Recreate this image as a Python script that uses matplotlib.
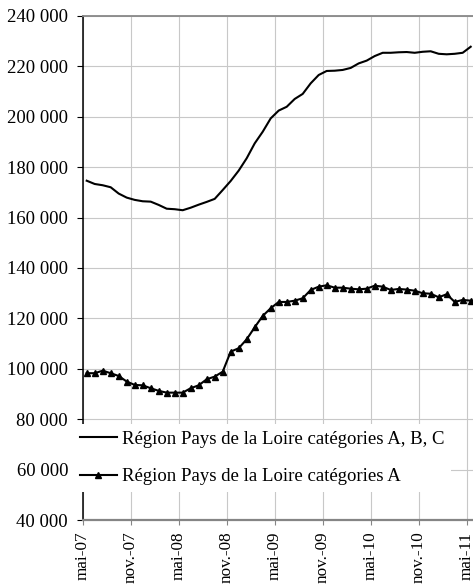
import numpy as np
import matplotlib
matplotlib.use('Agg')
import matplotlib.pyplot as plt
from matplotlib.ticker import FuncFormatter

plt.rcParams['font.family'] = ['Liberation Serif', 'DejaVu Serif']
plt.rcParams['font.size'] = 13.5

#monthly series, mai-07 .. mai-11
cat_abc = [174600, 173300, 172800, 172000, 169500, 167900, 167000, 166450, 166300,
           165000, 163500, 163300, 162900, 163900, 165100, 166200, 167400, 170900,
           174500, 178600, 183500, 189400, 194000, 199300, 202400, 203900, 207000,
           209000, 213200, 216500, 218100, 218200, 218500, 219300, 221100, 222200,
           224000, 225300, 225300, 225500, 225600, 225300, 225700, 225900, 224900,
           224700, 224900, 225300, 227700]
cat_a = [98300, 98300, 99300, 98300, 97200, 95000, 93650, 93500, 92350,
         91300, 90600, 90600, 90600, 92350, 93500, 95900, 96950, 98900,
         106850, 108200, 111750, 116500, 121000, 124050, 126550, 126550, 127050,
         128000, 131300, 132600, 133150, 132200, 132200, 131800, 131550, 131800,
         133000, 132600, 131300, 131700, 131450, 131000, 130000, 129800, 128400,
         129600, 126550, 127350, 127050]
tick_labels = ['mai-07', 'nov.-07', 'mai-08', 'nov.-08', 'mai-09',
               'nov.-09', 'mai-10', 'nov.-10', 'mai-11']
series_names = ['Région Pays de la Loire catégories A, B, C',
                'Région Pays de la Loire catégories A']

W, H = 473, 588
fig = plt.figure(figsize=(W / 100, H / 100), dpi=100)
ax = fig.add_axes([82.7 / W, 67.7 / H, 392 / W, 504.6 / H])

x = np.arange(len(cat_abc)) + 0.5
ax.plot(x, cat_abc, color='black', lw=1.5, label=series_names[0])
ax.plot(x, cat_a, color='black', lw=1.5, marker='^', ms=4.5,
        label=series_names[1])

ax.set_xlim(0, len(cat_abc))
ax.set_ylim(40000, 240000)
ax.set_xticks(np.arange(0, len(cat_abc), 6))
ax.set_xticklabels(tick_labels, rotation=90, fontsize=12.3)
ax.set_yticks(np.arange(40000, 240001, 20000))
ax.yaxis.set_major_formatter(FuncFormatter(lambda v, p: f'{int(v):,}'.replace(',', ' ')))

ax.set_axisbelow(True)
ax.grid(True, color='#c8c8c8', lw=0.8)

ax.spines['left'].set_color('black')
ax.spines['left'].set_linewidth(1.1)
ax.spines['bottom'].set_color('#858585')
ax.spines['bottom'].set_linewidth(1.6)
ax.spines['top'].set_color('#888888')
ax.spines['top'].set_linewidth(1.3)
ax.spines['right'].set_visible(False)

ax.tick_params(axis='y', length=4.5, width=0.8, color='black', pad=6)
ax.tick_params(axis='x', length=3.6, width=0.8, color='#858585', pad=4.5)

leg = ax.legend(loc='upper left', bbox_to_anchor=(73 / W, 1 - 424 / H),
                bbox_transform=fig.transFigure, frameon=True, fancybox=False,
                edgecolor='none', facecolor='white', framealpha=1,
                borderpad=0.35, borderaxespad=0, handlelength=2.0,
                handletextpad=0.25, labelspacing=1.1, numpoints=1)
leg.set_zorder(5)

fig.savefig('out.png', dpi=100)
